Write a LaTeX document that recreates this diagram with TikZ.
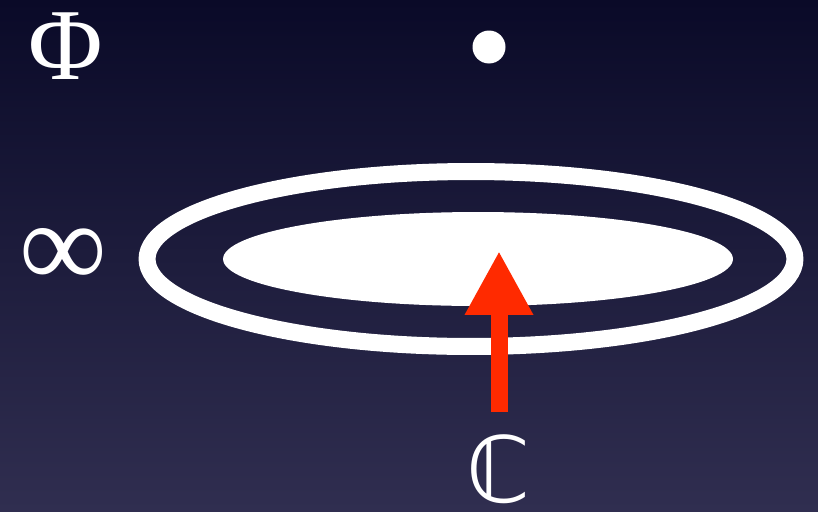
\documentclass[tikz,border=0pt]{standalone}
\usepackage{fontspec}
\setmainfont{Liberation Serif}
\newfontfamily\symfont{DejaVu Sans}
\usepackage{xcolor}
\usepackage{tikz}
\usetikzlibrary{arrows.meta,shapes.geometric}
\definecolor{SkyTop}{HTML}{0A0A28}
\definecolor{SkyBottom}{HTML}{302E50}
\definecolor{ArrowRed}{HTML}{FF2A00}
\begin{document}
\begin{tikzpicture}[x=0.02cm,y=-0.02cm]
\path[use as bounding box] (0,0) rectangle (818,511);
\fill[top color=SkyTop,bottom color=SkyBottom] (0,0) rectangle (818,511);
\node[text=white,inner sep=0pt,font=\fontsize{58}{60}\selectfont] (phi) at (66,46) {Φ};
\node[fill=white,circle,inner sep=0pt,minimum size=0.66cm] (dot) at (489,47) {};
\node[text=white,inner sep=0pt,font=\fontsize{70}{72}\selectfont] (inf) at (63,258) {∞};
\draw[white,line width=0.34cm] (471,259) ellipse [x radius=6.48cm,y radius=1.75cm];
\node[fill=white,ellipse,inner sep=0pt,minimum width=10.2cm,minimum height=1.88cm] (disk) at (478,259) {};
\node[text=white,inner sep=0pt,anchor=base,font=\symfont\fontsize{52}{54}\selectfont] (cc) at (498,502) {ℂ};
\coordinate (foot) at (499,412);
\coordinate (tip) at (499,251);
\draw[ArrowRed,line width=0.34cm,-{Triangle[width=1.28cm,length=1.28cm]}] (foot) -- (tip);
\end{tikzpicture}
\end{document}
